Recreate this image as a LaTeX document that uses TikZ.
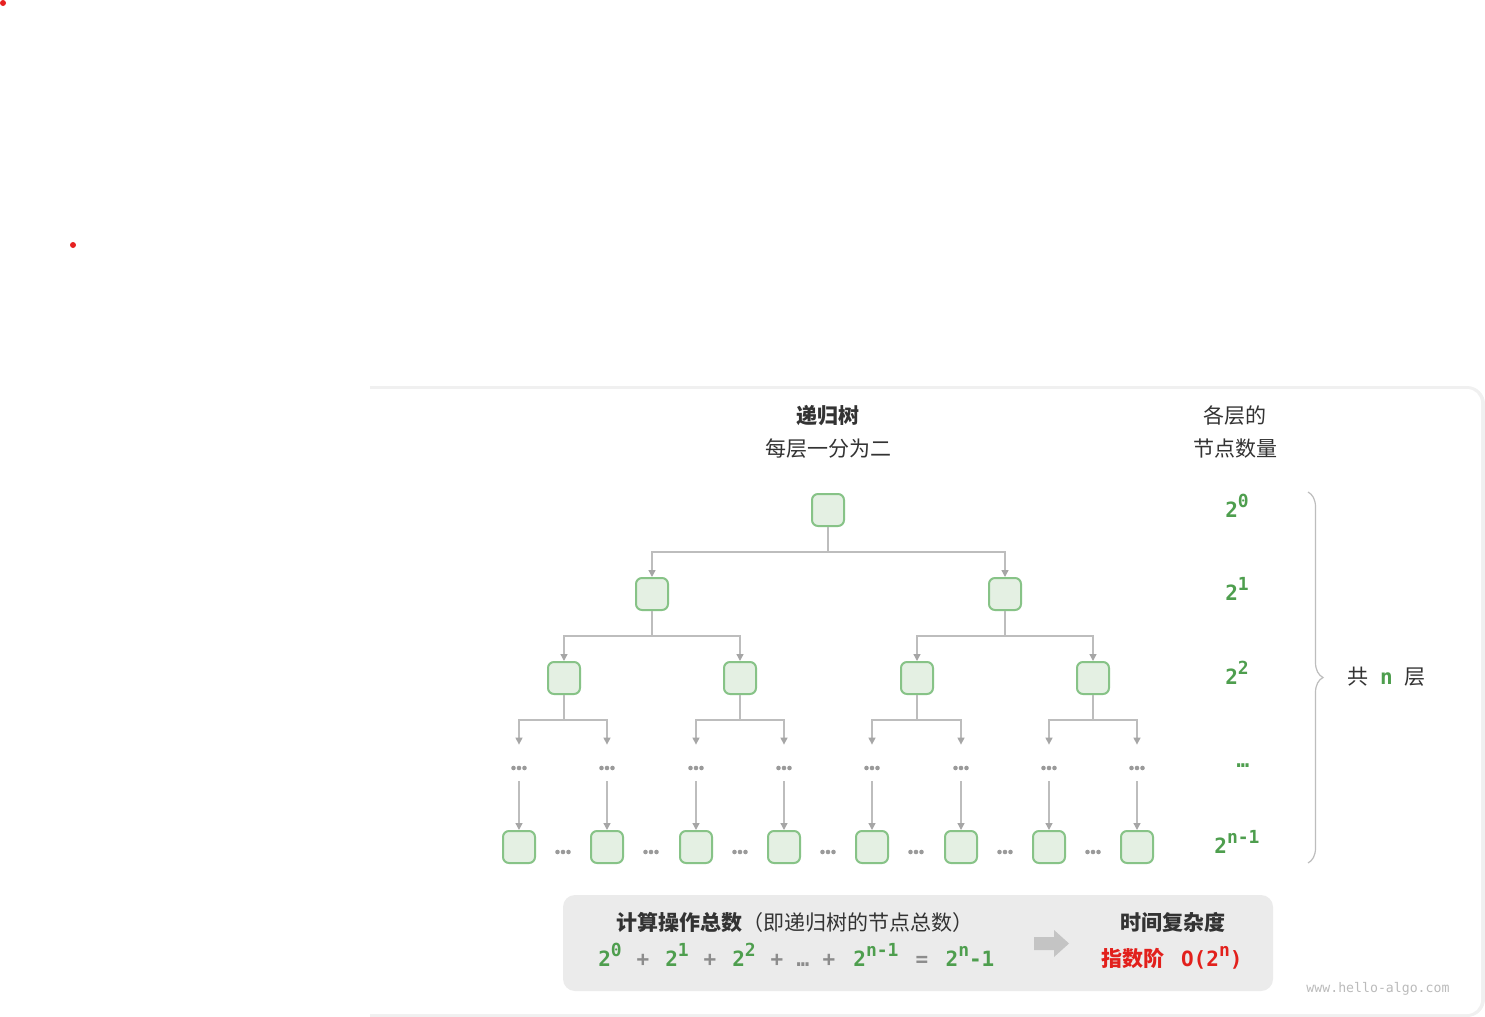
\documentclass[tikz,border=0pt]{standalone}
\usepackage{fontspec}
\usepackage{tikz}
\usetikzlibrary{arrows.meta}
\usetikzlibrary{decorations.pathreplacing}
\newfontfamily\cjk{Noto Sans CJK SC}
\newfontfamily\code{DejaVu Sans Mono}
\definecolor{nodefill}{HTML}{E4F0E3}
\definecolor{nodeline}{HTML}{87C387}
\definecolor{linegray}{HTML}{BDBDBD}
\definecolor{tipgray}{HTML}{A6A6A6}
\definecolor{dotgray}{HTML}{9A9A9A}
\definecolor{textdark}{HTML}{333333}
\definecolor{numgreen}{HTML}{4E9E4E}
\definecolor{opgray}{HTML}{8C8C8C}
\definecolor{expred}{HTML}{E2201C}
\definecolor{boxgray}{HTML}{EBEBEB}
\definecolor{blockgray}{HTML}{C4C4C4}
\definecolor{cardedge}{HTML}{F0F0F0}
\definecolor{markgray}{HTML}{BBBBBB}
\definecolor{dotred}{HTML}{E62020}
\newcommand{\pw}[1]{2\raisebox{0.45em}{\fontsize{9}{9}\selectfont #1}}

\begin{document}
\begin{tikzpicture}[x=0.5pt,y=-0.5pt,
  treenode/.style={draw=nodeline,fill=nodefill,line width=1pt,rounded corners=3pt,minimum size=16pt,inner sep=0pt},
  link/.style={draw=linegray,line width=0.7pt,-{Triangle[length=3.5pt,width=3.5pt,color=tipgray]}},
  gapnode/.style={inner sep=0pt,minimum width=8pt,minimum height=18pt},
  ellip/.pic={\fill[dotgray] (-5.5,0) circle (1.15pt) (0,0) circle (1.15pt) (5.5,0) circle (1.15pt);},
  title/.style={font=\cjk\fontsize{10.5}{12}\selectfont,text=textdark},
  titleb/.style={font=\cjk\bfseries\fontsize{10.5}{12}\selectfont,text=textdark},
  num/.style={font=\code\bfseries\fontsize{10.5}{11}\selectfont,text=numgreen,anchor=base},
  brace/.style={draw=linegray,line width=0.6pt,decorate,decoration={brace,amplitude=7.5pt}}]
  \useasboundingbox (0,0) rectangle (1485,1017);
  % card
  \fill[cardedge] (370,386) [rounded corners=9pt] -- (1485,386) -- (1485,1017) [sharp corners] -- (370,1017) -- cycle;
  \fill[white] (370,389) [rounded corners=7pt] -- (1481,389) -- (1481,1014) [sharp corners] -- (370,1014) -- cycle;
  \fill[dotred] (3,3) circle (1.5pt);
  \fill[dotred] (73,245) circle (1.5pt);

  % titles
  \node[titleb] (tree) at (828,416) {递归树};
  \node[title] (split) at (828,449) {每层一分为二};
  \node[title] (cntA) at (1235,416) {各层的};
  \node[title] (cntB) at (1235,449) {节点数量};

  % tree
  \node[treenode] (root) at (828,510) {};
  \foreach \x [count=\i] in {652,1005}
    \node[treenode] (lvA-\i) at (\x,594) {};
  \foreach \x [count=\i] in {564,740,917,1093}
    \node[treenode] (lvB-\i) at (\x,678) {};
  \foreach \x [count=\i] in {519,607,696,784,872,961,1049,1137} {
    \node[gapnode] (gap-\i) at (\x,763) {};
    \pic at (\x,768) {ellip};
    \node[treenode] (leaf-\i) at (\x,847) {};
    \draw[link] (gap-\i.south) -- (leaf-\i.north);
  }
  \foreach \i in {1,2}
    \draw[link] (root.south) -- ++(0,25) -| (lvA-\i.north);
  \foreach \i in {1,...,4} {
    \pgfmathtruncatemacro\p{(\i+1)/2}
    \draw[link] (lvA-\p.south) -- ++(0,25) -| (lvB-\i.north);
  }
  \foreach \i in {1,...,8} {
    \pgfmathtruncatemacro\p{(\i+1)/2}
    \draw[link] (lvB-\p.south) -- ++(0,25) -| (gap-\i.north);
  }
  \foreach \x in {563,651,740,828,916,1005,1093}
    \pic at (\x,852) {ellip};

  % counts per level
  \node[num] (pw0) at (1237,517) {\pw{0}};
  \node[num] (pw1) at (1237,600) {\pw{1}};
  \node[num] (pw2) at (1237,684) {\pw{2}};
  \node[num] (pwd) at (1243,767) {…};
  \node[num] (pwn) at (1237,853) {\pw{n-1}};
  \draw[brace] (1308,492) -- (1308,863);
  \node[title,anchor=west] (layers) at (1340,677) {共\hspace{6pt}{\code\bfseries\fontsize{10.5}{11}\selectfont\color{numgreen}n}\hspace{6pt}层};

  % summary box
  \fill[boxgray,rounded corners=6pt] (563,895) rectangle (1273,991);
  \node[titleb,anchor=west] (ops) at (609,922) {计算操作总数{\mdseries （即递归树的节点总数）}};
  \foreach \x/\t/\c [count=\k] in {610/{\pw{0}}/numgreen,643/+/opgray,677/{\pw{1}}/numgreen,710/+/opgray,744/{\pw{2}}/numgreen,777/+/opgray,803/…/opgray,829/+/opgray,876/{\pw{n-1}}/numgreen,922/=/opgray,970/{\pw{n}-1}/numgreen}
    \node[num,text=\c] (term-\k) at (\x,966) {\t};
  \fill[blockgray] (1034,937) -- (1054,937) -- (1054,930) -- (1069,943.5) -- (1054,957) -- (1054,950) -- (1034,950) -- cycle;
  \node[titleb] (tc) at (1173,922) {时间复杂度};
  \node[titleb,text=expred] (expo) at (1133,958) {指数阶};
  \node[num,text=expred,anchor=base west] (bigo) at (1174,966) {O(\pw{n})};
  \node[font=\code\fontsize{6.6}{7}\selectfont,text=markgray] (mark) at (1378,989) {www.hello-algo.com};
\end{tikzpicture}
\end{document}
